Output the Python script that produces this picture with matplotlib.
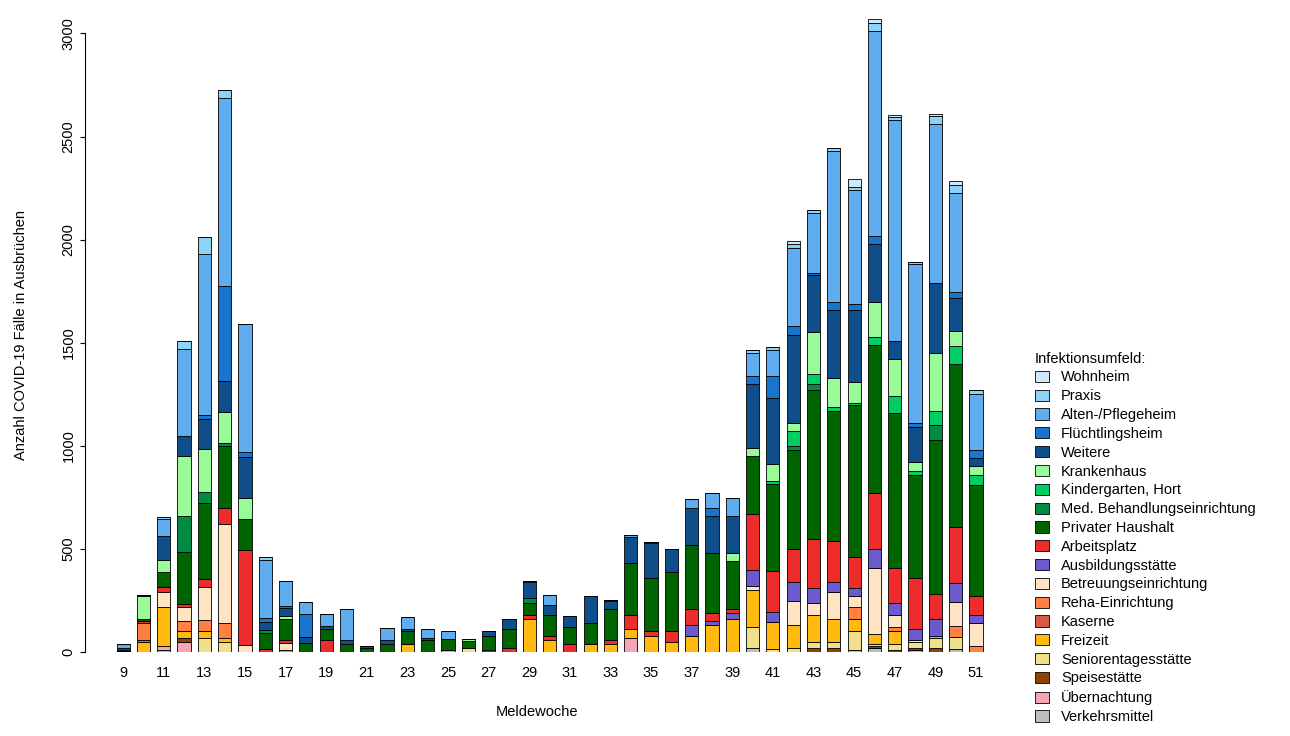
import numpy as np
import matplotlib.pyplot as plt

plt.rcParams['font.family'] = ['Liberation Sans', 'DejaVu Sans']

weeks = list(range(9, 52))

# values per category, {Meldewoche: cases}; missing weeks = 0
verkehrsmittel = {9: 5, 11: 10, 40: 20, 45: 10, 46: 20, 48: 10, 50: 15}
uebernachtung = {11: 20, 12: 50, 34: 70}
speisestaette = {12: 20, 27: 10, 43: 20, 44: 20, 46: 10, 47: 10, 48: 10, 49: 20}
seniorentages = {13: 70, 14: 50, 26: 20, 40: 100, 41: 15, 42: 20, 43: 30, 44: 30, 45: 90,
                 46: 10, 47: 30, 48: 30, 49: 50, 50: 60}
freizeit = {10: 50, 11: 190, 12: 30, 13: 30, 14: 20, 23: 40, 25: 10, 29: 160, 30: 60, 32: 40,
            33: 40, 34: 40, 35: 80, 36: 50, 37: 80, 38: 130, 39: 160, 40: 180, 41: 130,
            42: 110, 43: 130, 44: 110, 45: 60, 46: 50, 47: 60, 49: 10}
kaserne = {10: 10}
reha = {10: 80, 12: 50, 13: 55, 14: 70, 17: 10, 45: 60, 47: 20, 50: 50, 51: 30}
betreuung = {11: 70, 12: 70, 13: 160, 14: 480, 15: 35, 17: 35, 40: 20, 42: 120, 43: 60,
             44: 130, 45: 50, 46: 320, 47: 60, 48: 10, 50: 120, 51: 110}
ausbildung = {37: 50, 38: 20, 39: 30, 40: 80, 41: 50, 42: 90, 43: 70, 44: 50, 45: 40,
              46: 90, 47: 60, 48: 50, 49: 80, 50: 90, 51: 40}
arbeitsplatz = {10: 10, 11: 25, 12: 15, 13: 40, 14: 80, 15: 460, 16: 15, 17: 15, 19: 60,
                28: 20, 29: 20, 30: 20, 31: 40, 33: 20, 34: 70, 35: 20, 36: 50, 37: 80,
                38: 40, 39: 20, 40: 270, 41: 200, 42: 160, 43: 240, 44: 200, 45: 150,
                46: 270, 47: 170, 48: 250, 49: 120, 50: 270, 51: 90}
haushalt = {9: 5, 10: 10, 11: 75, 12: 250, 13: 370, 14: 300, 15: 150, 16: 80, 17: 100,
            18: 45, 19: 50, 20: 40, 21: 20, 22: 40, 23: 60, 24: 60, 25: 55, 26: 35, 27: 70,
            28: 90, 29: 60, 30: 100, 31: 80, 32: 100, 33: 150, 34: 250, 35: 260, 36: 290,
            37: 310, 38: 290, 39: 230, 40: 280, 41: 420, 42: 480, 43: 720, 44: 630,
            45: 740, 46: 720, 47: 750, 48: 500, 49: 750, 50: 790, 51: 540}
med_behandlung = {12: 175, 13: 50, 14: 15, 16: 10, 29: 20, 42: 20, 43: 30, 49: 70}
kindergarten = {41: 15, 42: 70, 43: 50, 44: 20, 45: 10, 46: 40, 47: 80, 48: 20, 49: 70,
                50: 90, 51: 50}
krankenhaus = {10: 110, 11: 55, 12: 290, 13: 210, 14: 150, 15: 100, 17: 15, 26: 10, 39: 40,
               40: 40, 41: 80, 42: 40, 43: 200, 44: 140, 45: 100, 46: 170, 47: 180,
               48: 40, 49: 280, 50: 70, 51: 40}
weitere = {9: 10, 10: 5, 11: 120, 12: 100, 13: 145, 14: 150, 15: 200, 16: 40, 17: 40,
           18: 30, 19: 15, 20: 20, 21: 10, 22: 20, 23: 10, 24: 10, 27: 20, 28: 50, 29: 80,
           30: 50, 31: 55, 32: 130, 33: 40, 34: 130, 35: 170, 36: 110, 37: 180, 38: 180,
           39: 180, 40: 310, 41: 320, 42: 430, 43: 280, 44: 330, 45: 350, 46: 280,
           47: 90, 48: 170, 49: 340, 50: 160, 51: 40}
fluechtlingsheim = {13: 20, 14: 460, 15: 25, 16: 20, 17: 10, 18: 110, 38: 40, 40: 40,
                    41: 110, 42: 40, 43: 10, 44: 40, 45: 30, 46: 40, 48: 20, 50: 30, 51: 40}
altenheim = {9: 20, 11: 80, 12: 420, 13: 780, 14: 910, 15: 620, 16: 280, 17: 120, 18: 60,
             19: 60, 20: 150, 22: 55, 23: 60, 24: 40, 25: 35, 29: 5, 30: 45, 33: 5, 34: 10,
             35: 5, 37: 40, 38: 70, 39: 85, 40: 110, 41: 125, 42: 380, 43: 290, 44: 730,
             45: 550, 46: 990, 47: 1070, 48: 770, 49: 770, 50: 480, 51: 270}
praxis = {11: 10, 12: 40, 13: 85, 14: 40, 16: 15, 40: 15, 41: 15, 42: 20, 43: 15, 44: 15,
          45: 15, 46: 40, 47: 15, 48: 10, 49: 40, 50: 40, 51: 20}
wohnheim = {42: 15, 45: 40, 46: 20, 47: 10, 49: 10, 50: 20}

# bottom to top
series = [
    ("Verkehrsmittel", verkehrsmittel, "#bebebe"),
    ("Übernachtung", uebernachtung, "#f4a6b4"),
    ("Speisestätte", speisestaette, "#8b4500"),
    ("Seniorentagesstätte", seniorentages, "#f0e08c"),
    ("Freizeit", freizeit, "#ffb90f"),
    ("Kaserne", kaserne, "#d65a45"),
    ("Reha-Einrichtung", reha, "#ff8040"),
    ("Betreuungseinrichtung", betreuung, "#ffe4c4"),
    ("Ausbildungsstätte", ausbildung, "#6a5acd"),
    ("Arbeitsplatz", arbeitsplatz, "#ee2c2c"),
    ("Privater Haushalt", haushalt, "#006400"),
    ("Med. Behandlungseinrichtung", med_behandlung, "#008b45"),
    ("Kindergarten, Hort", kindergarten, "#00cd66"),
    ("Krankenhaus", krankenhaus, "#98fb98"),
    ("Weitere", weitere, "#104e8b"),
    ("Flüchtlingsheim", fluechtlingsheim, "#1874cd"),
    ("Alten-/Pflegeheim", altenheim, "#5fadee"),
    ("Praxis", praxis, "#8dd3f7"),
    ("Wohnheim", wohnheim, "#cfe8fa"),
]

fig = plt.figure(figsize=(12.9, 7.36), dpi=100)
ax = fig.add_axes([0.066, 0.114, 0.70, 0.863])
x = np.arange(len(weeks))
bottom = np.zeros(len(weeks))
handles = []
for name, d, col in series:
    vals = np.array([d.get(w, 0) for w in weeks], dtype=float)
    b = ax.bar(x, vals, 0.65, bottom=bottom, color=col, edgecolor="black", linewidth=0.6,
               label=name)
    handles.append(b)
    bottom += vals

ax.set_xlim(-1.87, 42.6)
ax.set_ylim(0, 3080)
for s in ["top", "right", "bottom"]:
    ax.spines[s].set_visible(False)
ax.spines["left"].set_bounds(0, 3000)
ax.set_yticks(range(0, 3001, 500))
ax.tick_params(axis="y", labelrotation=90, labelsize=10.5)
for lbl in ax.get_yticklabels():
    lbl.set_va("center")
ax.set_xticks(x[::2])
ax.set_xticklabels([str(w) for w in weeks[::2]], fontsize=10.5)
ax.tick_params(axis="x", length=0, pad=10)
ax.set_xlabel("Meldewoche", fontsize=10.5, labelpad=18)
ax.set_ylabel("Anzahl COVID-19 Fälle in Ausbrüchen", fontsize=10.5, labelpad=24)

fig.legend(handles[::-1], [s[0] for s in series][::-1], title="Infektionsumfeld:",
           loc="upper left", bbox_to_anchor=(0.792, 0.54), frameon=False, fontsize=10.5,
           title_fontsize=10.5, handlelength=1.0, handleheight=0.8, labelspacing=0.33,
           alignment="left")

fig.savefig("out.png", dpi=100)
